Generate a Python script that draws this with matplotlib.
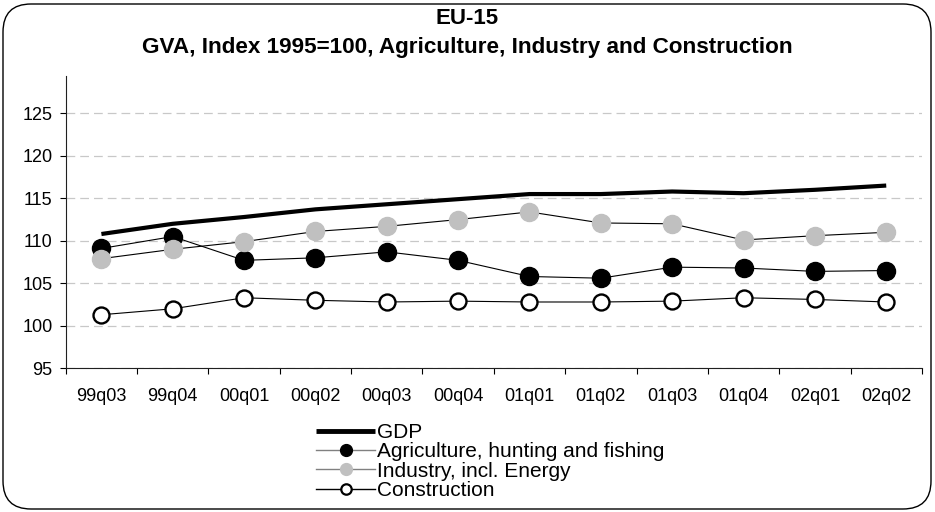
import matplotlib
matplotlib.use("Agg")
import matplotlib.pyplot as plt
from matplotlib.lines import Line2D
from matplotlib.patches import FancyBboxPatch

plt.rcParams['font.family'] = ['Liberation Sans', 'DejaVu Sans']

# data
quarters = ['99q03', '99q04', '00q01', '00q02', '00q03', '00q04',
            '01q01', '01q02', '01q03', '01q04', '02q01', '02q02']
gdp = [110.8, 112.0, 112.8, 113.7, 114.3, 114.9,
       115.5, 115.5, 115.8, 115.6, 116.0, 116.5]
agriculture = [109.1, 110.5, 107.7, 108.0, 108.7, 107.7,
               105.8, 105.6, 106.9, 106.8, 106.4, 106.5]
industry = [107.9, 109.0, 109.9, 111.1, 111.7, 112.5,
            113.4, 112.1, 112.0, 110.1, 110.6, 111.0]
construction = [101.3, 102.0, 103.3, 103.0, 102.8, 102.9,
                102.8, 102.8, 102.9, 103.3, 103.1, 102.8]
y_ticks = [95, 100, 105, 110, 115, 120, 125]

labels = ['GDP', 'Agriculture, hunting and fishing',
          'Industry, incl. Energy', 'Construction']

fig = plt.figure(figsize=(9.35, 5.12), dpi=100)
ax = fig.add_axes([0.0703, 0.2807, 0.9157, 0.571])

x = range(len(quarters))
ax.plot(x, gdp, color='black', lw=3, solid_capstyle='butt', zorder=3)
ax.plot(x, agriculture, color='black', lw=0.8, marker='o', ms=13,
        mfc='black', mec='black', zorder=4)
ax.plot(x, industry, color='black', lw=0.8, marker='o', ms=13,
        mfc='#c0c0c0', mec='#c0c0c0', zorder=5)
ax.plot(x, construction, color='black', lw=0.8, marker='o', ms=11.5,
        mfc='white', mec='black', mew=1.7, zorder=6)

ax.set_xlim(-0.5, len(quarters) - 0.5)
ax.set_ylim(95, 129.4)
ax.set_yticks(y_ticks)
ax.set_yticklabels([str(v) for v in y_ticks])
ax.set_xticks(list(x))
ax.set_xticklabels(quarters)
ax.set_xticks([i - 0.5 for i in range(len(quarters) + 1)], minor=True)

ax.tick_params(axis='x', which='major', length=0, pad=14, labelsize=13)
ax.tick_params(axis='x', which='minor', length=4.5, width=0.8, direction='out')
ax.tick_params(axis='y', length=4.5, width=0.8, direction='out', pad=5, labelsize=13)

for s in ['top', 'right']:
    ax.spines[s].set_visible(False)
for s in ['left', 'bottom']:
    ax.spines[s].set_linewidth(0.8)
    ax.spines[s].set_color('#202020')

ax.yaxis.grid(True, color='#c8c8c8', lw=0.9, dashes=(7, 4))
ax.set_axisbelow(True)

# titles
fig.text(0.5, 1 - 18 / 512, 'EU-15', ha='center', va='center',
         fontsize=16, fontweight='bold')
fig.text(0.5, 1 - 48 / 512,
         'GVA, Index 1995=100, Agriculture, Industry and Construction',
         ha='center', va='center', fontsize=16.2, fontweight='bold')

# legend
handles = [
    Line2D([], [], color='black', lw=3.5, solid_capstyle='butt'),
    Line2D([], [], color='#808080', lw=1, marker='o', ms=8.5,
           mfc='black', mec='black'),
    Line2D([], [], color='#808080', lw=1, marker='o', ms=8.5,
           mfc='#c0c0c0', mec='#c0c0c0'),
    Line2D([], [], color='black', lw=1, marker='o', ms=7.5,
           mfc='white', mec='black', mew=1.6),
]
fig.legend(handles, labels, loc='upper left', bbox_to_anchor=(0.338, 0.174),
           frameon=False, fontsize=15, handlelength=2.85, handletextpad=0.1,
           labelspacing=0.02, borderpad=0, borderaxespad=0)

# rounded outer frame
frame = FancyBboxPatch((3 / 935, 3 / 512), 928 / 935, 505 / 512,
                       boxstyle='round,pad=0,rounding_size=0.03',
                       transform=fig.transFigure, fill=False,
                       edgecolor='black', lw=1.0, mutation_aspect=935 / 512)
fig.patches.append(frame)

fig.savefig('out.png', dpi=100)
